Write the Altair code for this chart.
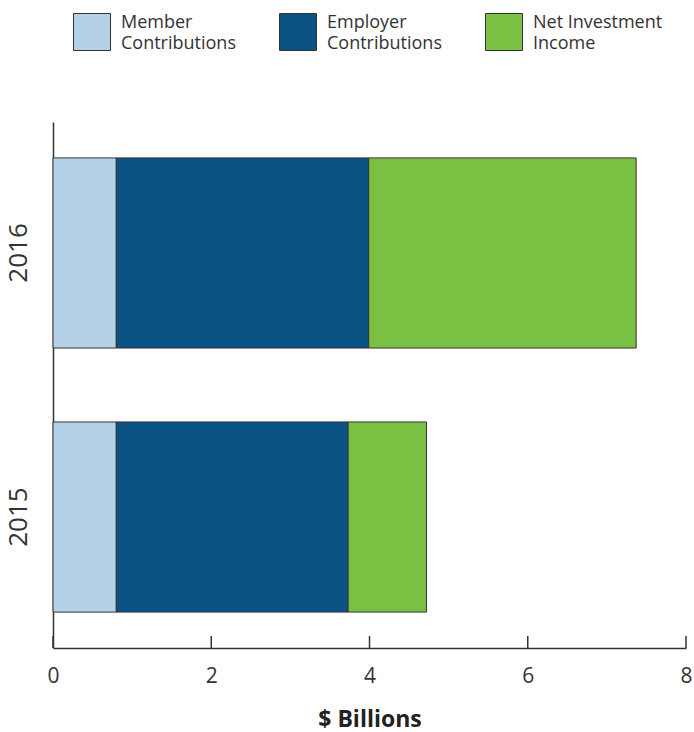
import altair as alt
import pandas as pd

years = ["2016", "2015"]
categories = ["Member|Contributions", "Employer|Contributions", "Net Investment|Income"]
member = [0.80, 0.80]
employer = [3.19, 2.93]
net_income = [3.38, 0.99]
colors = ["#b5d1e8", "#0b5285", "#7ac143"]
x_ticks = [0, 2, 4, 6, 8]

rows = []
for i, y in enumerate(years):
    for j, (cat, vals) in enumerate(zip(categories, [member, employer, net_income])):
        rows.append({"year": y, "category": cat, "value": vals[i], "order": j})
df = pd.DataFrame(rows)
ticks_df = pd.DataFrame({"t": x_ticks})

FONT = "Open Sans"
PW, PH = 633, 526

x_scale = alt.Scale(domain=[0, 8], nice=False, zero=True)

bars = alt.Chart(df).mark_bar(stroke="#333333", strokeWidth=1).encode(
    x=alt.X("sum(value):Q", stack="zero", scale=x_scale,
            axis=alt.Axis(values=x_ticks, format="d", title="$ Billions", grid=False, ticks=False,
                          domainColor="#333333", domainWidth=1.5,
                          labelFontSize=21, labelColor="#333333", labelFont=FONT,
                          labelPadding=17,
                          titleFont=FONT, titleFontSize=23, titleFontWeight="bold",
                          titleColor="#222222", titlePadding=22,
                          labelFlush=False)),
    y=alt.Y("year:N", sort=years,
            scale=alt.Scale(paddingInner=0.28, paddingOuter=0.136),
            axis=alt.Axis(title=None, ticks=False, domainColor="#333333", domainWidth=1.5,
                          labelAngle=270, labelAlign="center", labelBaseline="bottom",
                          labelPadding=22, labelFontSize=26, labelFont=FONT,
                          labelColor="#333333")),
    color=alt.Color("category:N", sort=categories,
                    scale=alt.Scale(domain=categories, range=colors),
                    legend=alt.Legend(title=None, orient="none", legendX=20, legendY=-109,
                                      direction="horizontal", columns=3,
                                      symbolType="square", symbolSize=1369,
                                      symbolStrokeColor="#333333", symbolStrokeWidth=1,
                                      symbolOpacity=1,
                                      labelFont=FONT, labelFontSize=18, labelColor="#333333",
                                      labelExpr="split(datum.label, '|')",
                                      labelBaseline="bottom",
                                      labelLimit=200, columnPadding=41, labelOffset=10)),
    order=alt.Order("order:Q"),
)

tick_rules = alt.Chart(ticks_df).mark_rule(color="#333333", strokeWidth=1.5).encode(
    x=alt.X("t:Q", scale=x_scale),
    y=alt.value(PH - 12),
    y2=alt.value(PH),
)

chart = alt.layer(bars, tick_rules).properties(
    width=PW, height=PH,
    padding={"left": 53, "top": 122, "right": 8, "bottom": 84},
    autosize=alt.AutoSizeParams(type="none"),
).configure_view(stroke="transparent", strokeWidth=0).configure(
    background="white",
    style={"guide-label": {"lineHeight": 21}, "cell": {"stroke": "transparent"}},
)

chart.save("out.html", embed_options={"renderer": "svg", "actions": False})
